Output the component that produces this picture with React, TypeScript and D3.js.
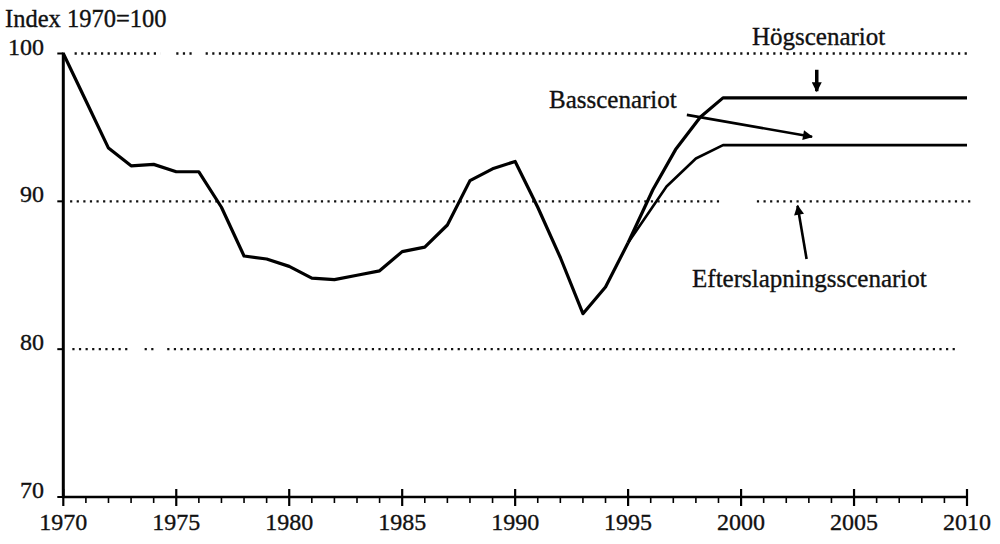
import React, {useEffect, useRef} from "react";
import * as d3 from "d3";

// historical index, 1970 = 100
const histYears = [1970, 1971, 1972, 1973, 1974, 1975, 1976, 1977, 1978, 1979, 1980, 1981, 1982,
  1983, 1984, 1985, 1986, 1987, 1988, 1989, 1990, 1991, 1992, 1993, 1994, 1995];
const histValues = [100, 96.8, 93.6, 92.4, 92.5, 92.0, 92.0, 89.6, 86.3, 86.1, 85.6, 84.8, 84.7,
  85.0, 85.3, 86.6, 86.9, 88.4, 91.4, 92.2, 92.7, 89.6, 86.2, 82.4, 84.2, 87.2];

// Högscenariot
const highYears = [1995, 1996.1, 1997.1, 1998.2, 1999.2, 2010];
const highValues = [87.2, 90.8, 93.5, 95.7, 97.0, 97.0];

// Basscenariot
const baseYears = [1995, 1996.7, 1998.0, 1999.2, 2010];
const baseValues = [87.2, 91.0, 92.9, 93.8, 93.8];

const yTicks = [70, 80, 90, 100];
const xTicks = [1970, 1975, 1980, 1985, 1990, 1995, 2000, 2005, 2010];
const gridLevels = [100, 90, 80];
// dotted grid pieces [from, to] in years, the original has gaps in them
const gridPieces = [
  [[1970.5, 1974.3], [1975.0, 1975.7], [1976.3, 2010]],
  [[1970.3, 1999.2], [2000.7, 2010.2]],
  [[1970.4, 1973.0], [1973.6, 1974.1], [1974.6, 2009.5]],
];

const yLabel = "Index 1970=100";
const scenarioLabels = ["Högscenariot", "Basscenariot", "Efterslapningsscenariot"];

export default function App() {
  const ref = useRef<SVGSVGElement>(null);
  const width = 1000;
  const height = 544;
  const font = "Liberation Serif";

  useEffect(() => {
    const svg = d3.select(ref.current);
    svg.selectAll("*").remove();

    const x = d3.scaleLinear().domain([1970, 2010]).range([63.3, 967]);
    const y = d3.scaleLinear().domain([70, 100]).range([497, 53.5]);

    const defs = svg.append("defs");
    defs.append("marker")
      .attr("id", "head")
      .attr("viewBox", "0 0 10 10")
      .attr("refX", 9).attr("refY", 5)
      .attr("markerUnits", "userSpaceOnUse")
      .attr("markerWidth", 15).attr("markerHeight", 10)
      .attr("orient", "auto")
      .append("path").attr("d", "M0,0L10,5L0,10z").attr("fill", "#000");

    // dotted grid
    const grid = svg.append("g");
    gridLevels.forEach((lvl, i) => {
      gridPieces[i].forEach(([a, b]) => {
        grid.append("line")
          .attr("x1", x(a)).attr("x2", x(b))
          .attr("y1", y(lvl)).attr("y2", y(lvl))
          .attr("stroke", "#111")
          .attr("stroke-width", 2.4)
          .attr("stroke-dasharray", "2.2 4.4");
      });
    });

    // axes
    const axes = svg.append("g").attr("stroke", "#000");
    axes.append("line")
      .attr("x1", x(1970)).attr("x2", x(1970))
      .attr("y1", y(100) - 1).attr("y2", y(70) + 1)
      .attr("stroke-width", 3);
    axes.append("line")
      .attr("x1", x(1970) - 1).attr("x2", x(2010) + 1)
      .attr("y1", y(70)).attr("y2", y(70))
      .attr("stroke-width", 2.6);
    axes.selectAll(".ytick").data(yTicks).join("line")
      .attr("x1", x(1970) - 6).attr("x2", x(1970))
      .attr("y1", d => y(d)).attr("y2", d => y(d))
      .attr("stroke-width", 2);
    axes.selectAll(".minor").data(d3.range(1971, 2010).filter(d => d % 5 !== 0)).join("line")
      .attr("x1", d => x(d)).attr("x2", d => x(d))
      .attr("y1", y(70)).attr("y2", y(70) + 6)
      .attr("stroke-width", 1.6);
    axes.selectAll(".major").data(xTicks).join("line")
      .attr("x1", d => x(d)).attr("x2", d => x(d))
      .attr("y1", y(70) - 8).attr("y2", y(70) + 9)
      .attr("stroke-width", 2.2);

    // scanned text looks a bit heavy, so give it a thin outline
    const labels = svg.append("g")
      .attr("fill", "#111")
      .attr("stroke", "#111")
      .attr("stroke-width", 0.35);
    labels.selectAll(".yl").data(yTicks).join("text")
      .attr("x", 44).attr("y", d => y(d) + 1)
      .attr("text-anchor", "end")
      .style("font-family", font)
      .attr("font-size", 24)
      .text(d => d);
    labels.selectAll(".xl").data(xTicks).join("text")
      .attr("x", d => x(d)).attr("y", 530)
      .attr("text-anchor", "middle")
      .style("font-family", font)
      .attr("font-size", 24)
      .text(d => d);
    labels.append("text")
      .attr("x", 5).attr("y", 27)
      .style("font-family", font)
      .attr("font-size", 24.5)
      .text(yLabel);

    // series
    const line = d3.line<[number, number]>()
      .x(d => x(d[0]))
      .y(d => y(d[1]));
    const series = [
      {pts: histYears.map((yr, i) => [yr, histValues[i]] as [number, number]), w: 3.2},
      {pts: highYears.map((yr, i) => [yr, highValues[i]] as [number, number]), w: 3.2},
      {pts: baseYears.map((yr, i) => [yr, baseValues[i]] as [number, number]), w: 2.6},
    ];
    svg.append("g").selectAll("path").data(series).join("path")
      .attr("d", d => line(d.pts))
      .attr("fill", "none")
      .attr("stroke", "#000")
      .attr("stroke-width", d => d.w)
      .attr("stroke-linejoin", "round");

    // annotations with arrows
    const notes = [
      {text: scenarioLabels[0], tx: 2000.48, ty: 100.57, from: [2003.35, 98.9], to: [2003.35, 97.45], w: 3.5},
      {text: scenarioLabels[1], tx: 1991.5, ty: 96.3, from: [1997.6, 95.85], to: [2003.14, 94.37], w: 2.6},
      {text: scenarioLabels[2], tx: 1997.83, ty: 84.2, from: [2002.9, 86.1], to: [2002.5, 89.7], w: 2.6},
    ];
    const ann = svg.append("g");
    ann.selectAll("line").data(notes).join("line")
      .attr("x1", d => x(d.from[0])).attr("y1", d => y(d.from[1]))
      .attr("x2", d => x(d.to[0])).attr("y2", d => y(d.to[1]))
      .attr("stroke", "#000")
      .attr("stroke-width", d => d.w)
      .attr("marker-end", "url(#head)");
    ann.selectAll("text").data(notes).join("text")
      .attr("x", d => x(d.tx)).attr("y", d => y(d.ty))
      .style("font-family", font)
      .attr("font-size", 25)
      .attr("fill", "#111")
      .attr("stroke", "#111")
      .attr("stroke-width", 0.35)
      .text(d => d.text);
  }, []);

  return (
    <svg ref={ref} width={width} height={height}
      style={{position: "absolute", left: 0, top: 0, background: "#fff", fontFamily: "Liberation Serif"}}/>
  );
}
